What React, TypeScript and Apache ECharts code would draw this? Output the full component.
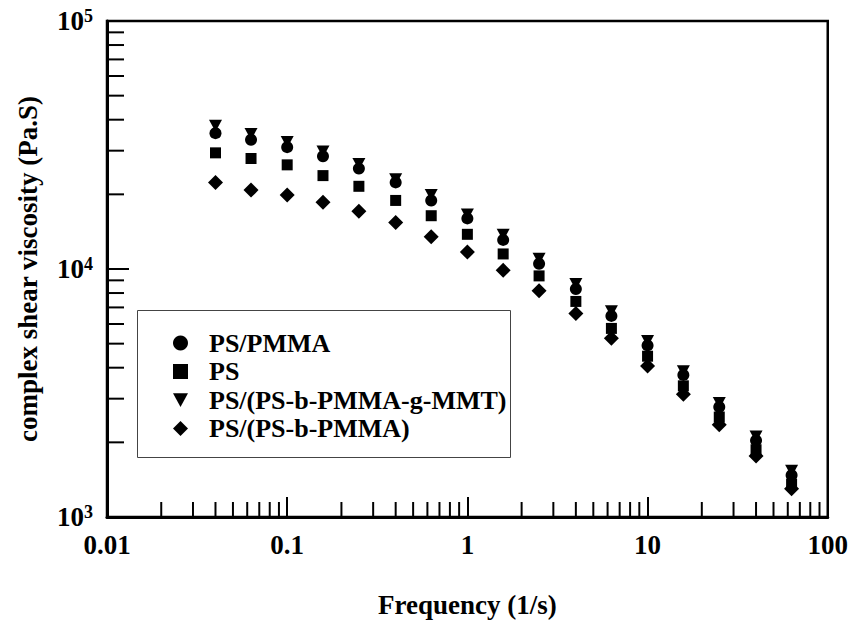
import React, { useEffect, useRef } from "react";
import * as echarts from "echarts";

const freq = [0.04, 0.063, 0.1, 0.158, 0.25, 0.4, 0.63, 1, 1.58, 2.5, 4, 6.3, 10, 15.8, 25, 40, 63];
const psPmma = [35300, 33200, 31000, 28500, 25400, 22350, 18900, 16000, 13100, 10500, 8300, 6470, 4920, 3740, 2775, 2035, 1473];
const ps = [29400, 27900, 26300, 23800, 21550, 18900, 16400, 13800, 11500, 9380, 7400, 5760, 4450, 3380, 2530, 1867, 1356];
const psMmt = [37800, 35000, 32500, 29800, 26500, 23000, 19900, 16600, 13750, 11000, 8700, 6750, 5130, 3870, 2880, 2110, 1535];
const psBlock = [22350, 20800, 19900, 18600, 17100, 15400, 13500, 11700, 9880, 8180, 6610, 5260, 4060, 3125, 2355, 1762, 1300];

const seriesNames = ["PS/PMMA", "PS", "PS/(PS-b-PMMA-g-MMT)", "PS/(PS-b-PMMA)"];

const xMinorTicks = [
  0.02, 0.03, 0.04, 0.05, 0.06, 0.07, 0.08, 0.09,
  0.2, 0.3, 0.4, 0.5, 0.6, 0.7, 0.8, 0.9,
  2, 3, 4, 5, 6, 7, 8, 9,
  20, 30, 40, 50, 60, 70, 80, 90,
];
const yMinorTicks = [
  2000, 3000, 4000, 5000, 6000, 7000, 8000, 9000,
  20000, 30000, 40000, 50000, 60000, 70000, 80000, 90000,
];

const FONT = "'Liberation Serif', 'Times New Roman', serif";
const TRI = "path://M0,0L12,0L6,11Z";

export default function App() {
  const ref = useRef<HTMLDivElement>(null);
  useEffect(() => {
    if (!ref.current) return;
    const chart = echarts.init(ref.current, null, { renderer: "svg" });
    const pair = (ys: number[]) => freq.map((f, i) => [f, ys[i]]);
    const scatterBase = {
      type: "scatter",
      itemStyle: { color: "#000", opacity: 1 },
      emphasis: { disabled: true },
      silent: true,
    };
    chart.setOption({
      animation: false,
      backgroundColor: "#fff",
      grid: {
        left: 107,
        right: 23,
        top: 21,
        bottom: 98,
        show: true,
        borderColor: "#000",
        borderWidth: 2.5,
        backgroundColor: "transparent",
      },
      xAxis: {
        type: "log",
        logBase: 10,
        min: 0.01,
        max: 100,
        name: "Frequency (1/s)",
        nameLocation: "middle",
        nameGap: 74,
        nameTextStyle: { fontFamily: FONT, fontWeight: "bold", fontSize: 27, color: "#000" },
        axisLine: { show: true, lineStyle: { color: "#000", width: 3 } },
        axisTick: { show: true, inside: true, length: 20, lineStyle: { color: "#000", width: 2 } },
        splitLine: { show: false },
        minorTick: { show: false },
        axisLabel: {
          margin: 14,
          fontFamily: FONT,
          fontWeight: "bold",
          fontSize: 27,
          color: "#000",
          formatter: (v: number) => {
            const e = Math.round(Math.log10(v));
            return e < 0 ? Math.pow(10, e).toFixed(-e) : String(Math.pow(10, e));
          },
        },
      },
      yAxis: {
        type: "log",
        logBase: 10,
        min: 1000,
        max: 100000,
        name: "complex shear viscosity (Pa.S)",
        nameLocation: "middle",
        nameGap: 66,
        nameRotate: 90,
        nameTextStyle: { fontFamily: FONT, fontWeight: "bold", fontSize: 27, color: "#000" },
        axisLine: { show: true, lineStyle: { color: "#000", width: 3 } },
        axisTick: { show: true, inside: true, length: 22, lineStyle: { color: "#000", width: 2 } },
        splitLine: { show: false },
        axisLabel: {
          margin: 14,
          color: "#000",
          formatter: (v: number) => `{b|10}{s|${Math.round(Math.log10(v))}}`,
          rich: {
            b: { fontFamily: FONT, fontWeight: "bold", fontSize: 27, color: "#000", lineHeight: 28 },
            s: { fontFamily: FONT, fontWeight: "bold", fontSize: 18, color: "#000", verticalAlign: "top", lineHeight: 18 },
          },
        },
      },
      legend: {
        show: true,
        orient: "vertical",
        left: 168,
        top: 324,
        itemGap: 0.5,
        itemWidth: 15,
        itemHeight: 15,
        selectedMode: false,
        textStyle: {
          fontFamily: FONT,
          fontWeight: "bold",
          fontSize: 26,
          lineHeight: 28,
          color: "#000",
          padding: [0, 0, 0, 16],
        },
        data: [
          { name: seriesNames[0], icon: "circle" },
          { name: seriesNames[1], icon: "rect" },
          { name: seriesNames[2], icon: TRI },
          { name: seriesNames[3], icon: "diamond" },
        ],
      },
      graphic: [
        {
          type: "rect",
          shape: { x: 137.5, y: 310.5, width: 373, height: 147 },
          style: { fill: "none", stroke: "#444", lineWidth: 1 },
          silent: true,
          z: 0,
        },
      ],
      series: [
        { ...scatterBase, name: seriesNames[2], data: pair(psMmt), symbol: TRI, symbolSize: [13, 12], z: 2 },
        { ...scatterBase, name: seriesNames[0], data: pair(psPmma), symbol: "circle", symbolSize: 12, z: 3 },
        { ...scatterBase, name: seriesNames[1], data: pair(ps), symbol: "rect", symbolSize: 11, z: 3 },
        { ...scatterBase, name: seriesNames[3], data: pair(psBlock), symbol: "diamond", symbolSize: [15, 15], z: 3 },
        {
          type: "custom",
          silent: true,
          data: xMinorTicks.map((v) => [v, 1000]),
          renderItem: (params: any, api: any) => {
            const p = api.coord([api.value(0), api.value(1)]);
            return {
              type: "line",
              shape: { x1: p[0], y1: p[1], x2: p[0], y2: p[1] - 15 },
              style: { stroke: "#000", lineWidth: 2 },
            };
          },
          z: 5,
        },
        {
          type: "custom",
          silent: true,
          data: yMinorTicks.map((v) => [0.01, v]),
          renderItem: (params: any, api: any) => {
            const p = api.coord([api.value(0), api.value(1)]);
            return {
              type: "line",
              shape: { x1: p[0], y1: p[1], x2: p[0] + 17, y2: p[1] },
              style: { stroke: "#000", lineWidth: 2 },
            };
          },
          z: 5,
        },
      ],
    });
    return () => chart.dispose();
  }, []);
  return (
    <div
      ref={ref}
      style={{ position: "fixed", left: 0, top: 0, width: 851, height: 623, background: "#fff" }}
    />
  );
}
